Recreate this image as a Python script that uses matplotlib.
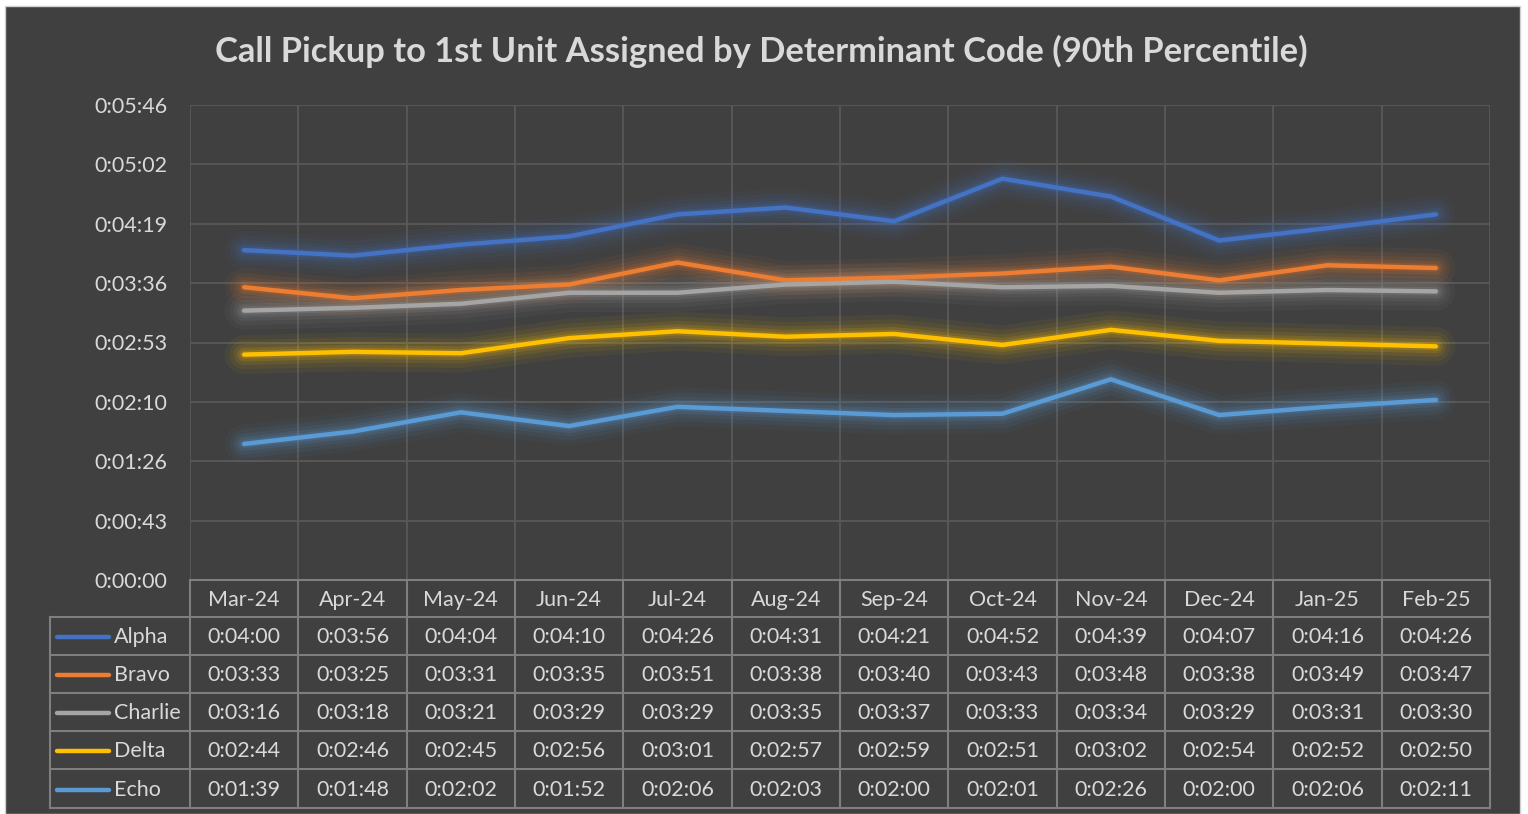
import matplotlib
matplotlib.use("Agg")
import matplotlib.pyplot as plt
from matplotlib.lines import Line2D
from matplotlib.patches import Rectangle

plt.rcParams['font.family'] = ['Lato', 'DejaVu Sans']

# data (seconds)
months = ["Mar-24", "Apr-24", "May-24", "Jun-24", "Jul-24", "Aug-24",
          "Sep-24", "Oct-24", "Nov-24", "Dec-24", "Jan-25", "Feb-25"]
alpha = [240, 236, 244, 250, 266, 271, 261, 292, 279, 247, 256, 266]
bravo = [213, 205, 211, 215, 231, 218, 220, 223, 228, 218, 229, 227]
charlie = [196, 198, 201, 209, 209, 215, 217, 213, 214, 209, 211, 210]
delta = [164, 166, 165, 176, 181, 177, 179, 171, 182, 174, 172, 170]
echo = [99, 108, 122, 112, 126, 123, 120, 121, 146, 120, 126, 131]

names = ["Alpha", "Bravo", "Charlie", "Delta", "Echo"]
series = [alpha, bravo, charlie, delta, echo]
colors = ["#4472C4", "#ED7D31", "#A5A5A5", "#FFC000", "#5B9BD5"]

bg = "#404040"
grid_c = "#595959"
border_c = "#7f7f7f"
text_c = "#d9d9d9"
fs = 15.5


def fmt(s):
    s = int(round(s))
    return "%d:%02d:%02d" % (s // 3600, (s % 3600) // 60, s % 60)


W, H = 1528, 814
fig = plt.figure(figsize=(W / 100, H / 100), dpi=100)
fig.patch.set_facecolor("white")
fig.add_artist(Rectangle((5 / W, 0), 1515 / W, 1 - 6 / H, transform=fig.transFigure,
                         facecolor=bg, edgecolor="#d0d0d0", lw=1, zorder=-10))

# plot area
x0, x1 = 190, 1490
y_top, y_bot = 105, 580
ax = fig.add_axes([x0 / W, 1 - y_bot / H, (x1 - x0) / W, (y_bot - y_top) / H])
ax.set_facecolor(bg)
ymax = 345.6
step = 43.2
ax.set_xlim(-0.5, len(months) - 0.5)
ax.set_ylim(0, ymax)
ticks = [i * step for i in range(9)]
ax.set_yticks(ticks)
ax.set_yticklabels([fmt(t) for t in ticks], color=text_c, fontsize=fs)
ax.set_xticks([])
ax.tick_params(axis="y", length=0, pad=16.5)
for t in ticks:
    ax.axhline(t, color=grid_c, lw=1.3, zorder=1)
for i in range(len(months) + 1):
    ax.axvline(i - 0.5, color=grid_c, lw=1.3, zorder=1)
for sp in ax.spines.values():
    sp.set_visible(False)

xs = list(range(len(months)))
for vals, c in zip(series, colors):
    for w, a in [(28, 0.05), (21, 0.07), (15, 0.09), (10, 0.13), (6, 0.18)]:
        ax.plot(xs, vals, color=c, lw=w, alpha=a, solid_capstyle="round",
                solid_joinstyle="round", zorder=2)
    ax.plot(xs, vals, color=c, lw=3.2, solid_capstyle="round",
            solid_joinstyle="round", zorder=3)

fig.text(761 / W, 1 - 51 / H, "Call Pickup to 1st Unit Assigned by Determinant Code (90th Percentile)",
         ha="center", va="center", fontsize=24.8, fontweight="bold", color=text_c)

# data table
row_edges = [580, 617, 655, 693, 731, 769, 808]
col_w = (x1 - x0) / len(months)
lx0 = 50


def fx(px):
    return px / W


def fy(py):
    return 1 - py / H


lk = dict(color=border_c, lw=1.5, transform=fig.transFigure)
# horizontal lines
fig.add_artist(Line2D([fx(x0), fx(x1)], [fy(row_edges[0])] * 2, **lk))
for r in row_edges[1:]:
    fig.add_artist(Line2D([fx(lx0), fx(x1)], [fy(r)] * 2, **lk))
# vertical lines
for i in range(len(months) + 1):
    xp = x0 + i * col_w
    fig.add_artist(Line2D([fx(xp)] * 2, [fy(row_edges[0]), fy(row_edges[-1])], **lk))
fig.add_artist(Line2D([fx(lx0)] * 2, [fy(row_edges[1]), fy(row_edges[-1])], **lk))

for i, m in enumerate(months):
    fig.text(fx(x0 + (i + 0.5) * col_w), fy((row_edges[0] + row_edges[1]) / 2 + 1), m,
             ha="center", va="center", fontsize=fs, color=text_c)

for r, (nm, vals, c) in enumerate(zip(names, series, colors)):
    yc = fy((row_edges[r + 1] + row_edges[r + 2]) / 2 + 1)
    fig.add_artist(Line2D([fx(57), fx(109)], [yc, yc], color=c, lw=3.2,
                          solid_capstyle="round", transform=fig.transFigure))
    fig.text(fx(114), yc, nm, ha="left", va="center", fontsize=fs, color=text_c)
    for i, v in enumerate(vals):
        fig.text(fx(x0 + (i + 0.5) * col_w), yc, fmt(v),
                 ha="center", va="center", fontsize=fs, color=text_c)

fig.savefig("out.png", dpi=100, facecolor=fig.get_facecolor())
